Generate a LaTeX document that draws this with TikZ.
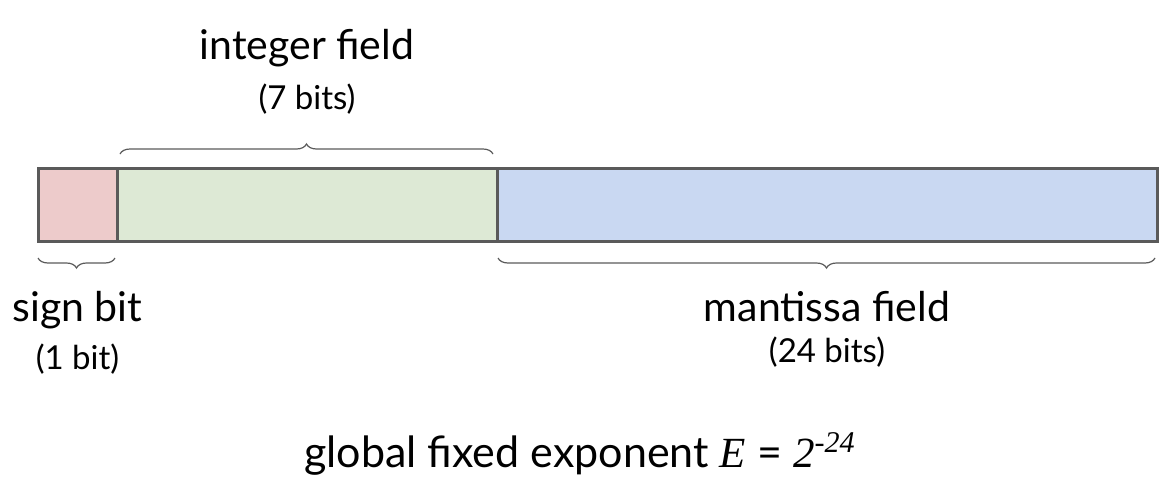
\documentclass[tikz,border=0pt]{standalone}
\usepackage{fontspec}
\setmainfont{Lato}
\newfontfamily\serif{Liberation Serif}
\usepackage{tikz}
\usetikzlibrary{positioning, decorations.pathreplacing}
\definecolor{signfill}{HTML}{EDCBCB}
\definecolor{intfill}{HTML}{DDE9D5}
\definecolor{mantfill}{HTML}{C9D8F2}
\definecolor{edge}{HTML}{5A5A5A}

\begin{document}
\begin{tikzpicture}[
    cell/.style={draw=edge, line width=1.5pt, minimum height=36.5pt, inner sep=0pt, outer sep=0pt},
    every node/.style={inner sep=0pt, outer sep=0pt}
]
\tikzset{
    titel/.style={font=\fontsize{20.5}{22}\selectfont},
    bits/.style={font=\fontsize{16.5}{18}\selectfont},
    klammer/.style={draw=edge, line width=0.6pt, decorate, decoration={brace, amplitude=5pt}}
}
\useasboundingbox (0,0) rectangle (586pt,-241pt);
\node[cell, fill=signfill, minimum width=39.5pt, anchor=north west] (sign) at (19pt,-84pt) {};
\node[cell, fill=intfill, minimum width=190pt, right=0pt of sign] (int) {};
\node[cell, fill=mantfill, minimum width=330pt, right=0pt of int] (mant) {};
% braces
\draw[klammer, decoration={raise=7pt}] ([xshift=1.5pt]int.north west) -- ([xshift=-2pt]int.north east);
\draw[klammer, decoration={raise=8.5pt, mirror}] (sign.south west) -- ([xshift=-1pt]sign.south east);
\draw[klammer, decoration={raise=8.5pt, mirror}] ([xshift=0.5pt]mant.south west) -- ([xshift=-1pt]mant.south east);
% labels
\node[bits, above=27pt of int] (intbits) {(7 bits)};
\node[titel, above=8.5pt of intbits] (intname) {integer field};
\node[titel, below=25pt of sign] (signname) {sign bit};
\node[bits, below=7.5pt of signname] (signbits) {(1 bit)};
\node[titel, below=25pt of mant] (mantname) {mantissa field};
\node[bits, below=7.5pt of mantname] (mantbits) {(24 bits)};
\node[font=\fontsize{21.5}{24}\selectfont, anchor=center] (expo) at (290pt,-227pt)
    {global fixed exponent {\serif\itshape E} = {\serif\itshape 2\textsuperscript{-24}}};
\end{tikzpicture}
\end{document}
